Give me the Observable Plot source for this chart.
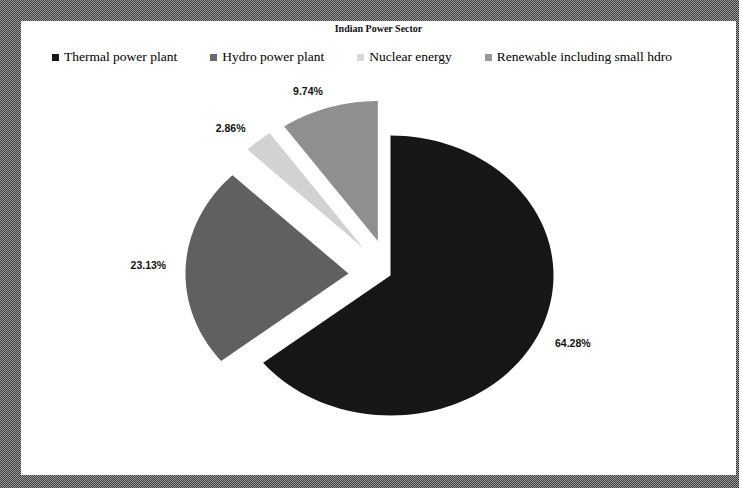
<!DOCTYPE html>
<html>
<head>
<meta charset="utf-8">
<script src="https://cdn.jsdelivr.net/npm/d3@7"></script>
<script src="https://cdn.jsdelivr.net/npm/@observablehq/plot@0.6"></script>
<style>
  html, body { margin: 0; padding: 0; background: #fff; }
  #frame {
    position: relative; width: 739px; height: 488px; overflow: hidden;
    background: repeating-conic-gradient(#3e3e3e 0 25%, #9c9c9c 0 50%) 0 0 / 2px 2px;
  }
  #inner { position: absolute; left: 21px; top: 21px; width: 715px; height: 454px; background: #fff; }
  #chart { position: absolute; left: 0; top: 0; }
  #title {
    position: absolute; left: 21px; width: 715px; top: 23px; text-align: center;
    font-family: "Liberation Serif", "DejaVu Serif", serif; font-size: 10px; font-weight: bold; color: #111;
  }
  #legend {
    position: absolute; left: 52px; top: 49px; display: flex; gap: 33px; white-space: nowrap;
    font-family: "Liberation Serif", "DejaVu Serif", serif; font-size: 13.5px; color: #000; line-height: 16px;
  }
  #legend .item { display: flex; align-items: center; }
  #legend .sw { width: 7px; height: 7px; margin-right: 5px; display: inline-block; }
</style>
</head>
<body>
<div id="frame">
  <div id="inner"></div>
  <div id="chart"></div>
  <div id="title"></div>
  <div id="legend"></div>
</div>
<script>
// ---- data ----
const title = "Indian Power Sector";
const categories = ["Thermal power plant", "Hydro power plant", "Nuclear energy", "Renewable including small hdro"];
const shares = [64.28, 23.13, 2.86, 9.74];
const valueLabels = ["64.28%", "23.13%", "2.86%", "9.74%"];
const exploded = [false, true, true, true];

// ---- styles ----
const colors = ["#161616", "#606060", "#d2d2d2", "#8f8f8f"];
const legendColors = ["#161616", "#6a6a6a", "#d8d8d8", "#9a9a9a"];
const explodeDist = 0.258;   // fraction of radius
const labelFactor = 1.12;    // label anchor distance (radius units)
const steps = 90;

// ---- pie geometry (unit radius; scales make it elliptical) ----
const total = d3.sum(shares);
let acc = 0;
const polyPoints = [];
const labelData = [];
categories.forEach((cat, i) => {
  const a0 = acc / total * 2 * Math.PI;
  acc += shares[i];
  const a1 = acc / total * 2 * Math.PI;
  const m = (a0 + a1) / 2;
  const cx = exploded[i] ? explodeDist * Math.sin(m) : 0;
  const cy = exploded[i] ? explodeDist * Math.cos(m) : 0;
  polyPoints.push({slice: cat, x: cx, y: cy});
  for (let k = 0; k <= steps; k++) {
    const a = a0 + (a1 - a0) * k / steps;
    polyPoints.push({slice: cat, x: cx + Math.sin(a), y: cy + Math.cos(a)});
  }
  polyPoints.push({slice: cat, x: cx, y: cy});
  labelData.push({
    text: valueLabels[i],
    x: cx + labelFactor * Math.sin(m),
    y: cy + labelFactor * Math.cos(m),
    right: Math.sin(m) > 0
  });
});

// center (390,275) px, rx 163, ry 140
const W = 739, H = 488, CX = 390, CY = 275, RX = 163, RY = 140;
const labelStyle = {x: "x", y: "y", text: "text", fontSize: 10.5, fontWeight: "bold",
  fontFamily: "Liberation Sans, Arial, sans-serif", fill: "#111"};

const chart = Plot.plot({
  width: W, height: H, margin: 0,
  style: {background: "transparent", overflow: "visible"},
  x: {domain: [-CX / RX, (W - CX) / RX], axis: null},
  y: {domain: [-(H - CY) / RY, CY / RY], axis: null},
  color: {domain: categories, range: colors},
  marks: [
    Plot.line(polyPoints, {x: "x", y: "y", z: "slice", fill: "slice", stroke: "none", curve: "linear"}),
    Plot.text(labelData.filter(d => d.right), {...labelStyle, textAnchor: "start"}),
    Plot.text(labelData.filter(d => !d.right), {...labelStyle, textAnchor: "end"})
  ]
});
document.getElementById("chart").appendChild(chart);

document.getElementById("title").textContent = title;
const legend = document.getElementById("legend");
categories.forEach((cat, i) => {
  const item = document.createElement("div");
  item.className = "item";
  const sw = document.createElement("span");
  sw.className = "sw";
  sw.style.background = legendColors[i];
  const t = document.createElement("span");
  t.textContent = cat;
  item.appendChild(sw);
  item.appendChild(t);
  legend.appendChild(item);
});
</script>
</body>
</html>
